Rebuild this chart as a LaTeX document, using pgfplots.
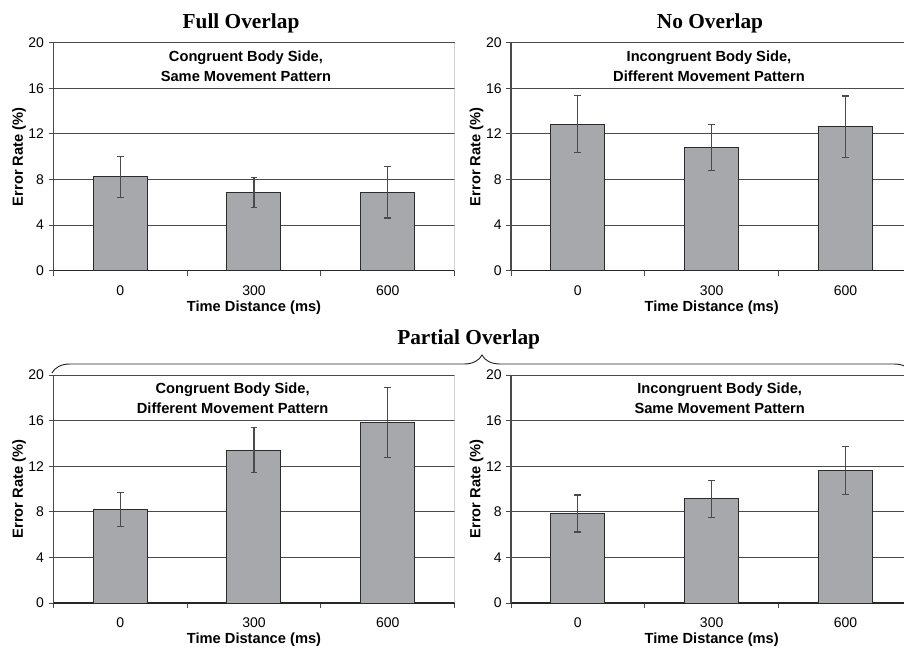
\documentclass[border=0pt]{standalone}
\usepackage{pgfplots}
\pgfplotsset{compat=1.18}
\usepackage{fontspec}
\setmainfont{Liberation Sans}
\newfontfamily\titlefont{Liberation Serif}
\usetikzlibrary{decorations.pathreplacing}
\definecolor{barfill}{HTML}{A7A8AC}
\definecolor{bardraw}{HTML}{2B2B2B}
\definecolor{gridc}{HTML}{4A4A4A}

\pgfplotsset{panel/.style={
  scale only axis, width=301pt, height=171pt,
  anchor=south west,
  xmin=-0.5, xmax=2.5, ymin=0, ymax=20,
  axis lines=left,
  axis line style={-},
  x axis line style={draw=black!85, line width=0.8pt},
  y axis line style={draw=gridc, line width=0.8pt},
  ytick={0,4,8,12,16,20},
  ymajorgrids, grid style={draw=gridc, line width=0.75pt},
  xtick={0,1,2}, xticklabels={0,300,600},
  major x tick style={draw=none},
  minor xtick={-0.5,0.5,1.5,2.5},
  tick align=outside, major tick length=3.5pt, minor tick length=4pt,
  tick style={draw=gridc, line width=0.75pt},
  ticklabel style={font=\fontsize{10.5}{12}\selectfont},
  /pgf/number format/assume math mode=true,
  xticklabel style={yshift=-6.5pt, inner sep=1pt},
  xlabel={Time Distance (ms)}, ylabel={Error Rate (\%)},
  label style={font=\bfseries\fontsize{11}{13}\selectfont, inner sep=0.5pt},
  xlabel style={at={(axis description cs:0.5,-0.162)}, anchor=center},
  ylabel style={at={(axis description cs:-0.0855,0.5)}, anchor=center},
  ybar, bar width=40.5pt,
  error bars/y dir=both, error bars/y explicit,
  error bars/error bar style={draw=gridc, line width=0.9pt},
  error bars/error mark options={rotate=90, mark size=2.6pt, line width=0.9pt, draw=gridc},
},
bars/.style={fill=barfill, draw=bardraw, line width=0.75pt}}

\begin{document}
\begin{tikzpicture}
\useasboundingbox (0,0) rectangle (678pt,485.25pt);
\clip (0,0) rectangle (678pt,485.25pt);

% Top-left: Full Overlap
\begin{axis}[panel, at={(40pt,282.2pt)}]
\addplot[bars] coordinates {(0,8.25) +- (0,1.8) (1,6.88) +- (0,1.3) (2,6.88) +- (0,2.25)};
\draw[gray!55, line width=0.75pt] (rel axis cs:1,0) -- (rel axis cs:1,1);
\node[align=center, font=\bfseries\fontsize{11}{15}\selectfont] at (axis cs:0.94,17.95) {Congruent Body Side,\\Same Movement Pattern};
\end{axis}

% Top-right: No Overlap
\begin{axis}[panel, at={(383.25pt,282.2pt)}]
\addplot[bars] coordinates {(0,12.87) +- (0,2.5) (1,10.82) +- (0,2.0) (2,12.63) +- (0,2.7)};
\draw[gray!55, line width=0.75pt] (rel axis cs:1,0) -- (rel axis cs:1,1);
\node[align=center, font=\bfseries\fontsize{11}{15}\selectfont] at (axis cs:0.98,17.95) {Incongruent Body Side,\\Different Movement Pattern};
\end{axis}

% Bottom-left
\begin{axis}[panel, at={(40pt,33pt)}]
\addplot[bars] coordinates {(0,8.2) +- (0,1.52) (1,13.42) +- (0,2.0) (2,15.85) +- (0,3.08)};
\draw[gray!55, line width=0.75pt] (rel axis cs:1,0) -- (rel axis cs:1,1);
\node[align=center, font=\bfseries\fontsize{11}{15}\selectfont] at (axis cs:0.84,17.95) {Congruent Body Side,\\Different Movement Pattern};
\end{axis}

% Bottom-right
\begin{axis}[panel, at={(383.25pt,33pt)}]
\addplot[bars] coordinates {(0,7.85) +- (0,1.62) (1,9.13) +- (0,1.6) (2,11.6) +- (0,2.1)};
\draw[gray!55, line width=0.75pt] (rel axis cs:1,0) -- (rel axis cs:1,1);
\node[align=center, font=\bfseries\fontsize{11}{15}\selectfont] at (axis cs:1.06,17.95) {Incongruent Body Side,\\Same Movement Pattern};
\end{axis}

% Titles
\node[anchor=base, font=\titlefont\bfseries\fontsize{16}{18}\selectfont] at (180.75pt,464pt) {Full Overlap};
\node[anchor=base, font=\titlefont\bfseries\fontsize{16}{18}\selectfont] at (532.5pt,464pt) {No Overlap};
\node[anchor=base, font=\titlefont\bfseries\fontsize{16}{18}\selectfont] at (351.5pt,226.5pt) {Partial Overlap};
\draw[black!85, line width=0.7pt, decorate, decoration={brace, amplitude=13.5pt}] (39pt,205.5pt) -- (684pt,205.5pt);
\end{tikzpicture}
\end{document}
